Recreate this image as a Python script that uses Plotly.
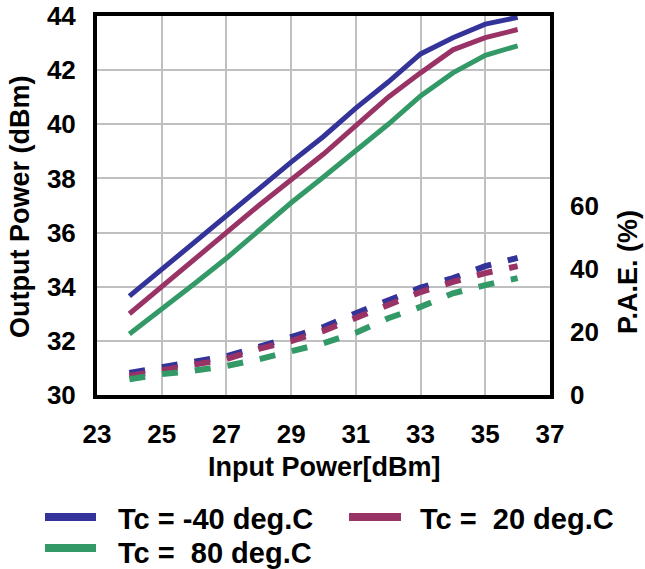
import plotly.graph_objects as go

# ---- data ----
pin = [24, 25, 26, 27, 28, 29, 30, 31, 32, 33, 34, 35, 36]

pout_m40 = [33.65, 34.65, 35.6, 36.6, 37.6, 38.6, 39.55, 40.6, 41.56, 42.6, 43.2, 43.7, 43.95]
pout_20 = [33.0, 34.0, 35.05, 36.0, 37.0, 37.95, 38.9, 39.95, 41.0, 41.9, 42.75, 43.2, 43.5]
pout_80 = [32.25, 33.15, 34.1, 35.05, 36.1, 37.1, 38.05, 39.0, 40.0, 41.05, 41.9, 42.55, 42.9]

pae_m40 = [7.0, 8.8, 10.5, 12.3, 15.2, 18.4, 21.5, 25.9, 30.1, 34.0, 37.0, 40.8, 43.4]
pae_20 = [6.0, 7.9, 9.5, 11.4, 14.6, 17.1, 20.3, 24.4, 28.8, 32.6, 35.8, 38.6, 40.8]
pae_80 = [5.0, 6.6, 7.7, 9.2, 11.3, 13.7, 16.4, 19.7, 24.3, 27.9, 32.2, 34.8, 37.0]

names = ["Tc = -40 deg.C", "Tc =\u00a0 20 deg.C", "Tc =\u00a0 80 deg.C"]
colors = ["#333399", "#993366", "#339966"]

x_ticks = [23, 25, 27, 29, 31, 33, 35, 37]
y_ticks = [30, 32, 34, 36, 38, 40, 42, 44]
y2_ticks = [0, 20, 40, 60]

FONT = "Liberation Sans, Arial, sans-serif"

W, H = 645, 569
ML, MR, MT, MB = 97, 95, 16, 174
PW, PH = W - ML - MR, H - MT - MB


def px(x):
    return (x - ML) / PW


def py(y):
    return (H - MB - y) / PH


fig = go.Figure()

pouts = [pout_m40, pout_20, pout_80]
paes = [pae_m40, pae_20, pae_80]

for i in range(3):
    fig.add_trace(go.Scatter(
        x=pin, y=pouts[i], mode="lines", name=names[i],
        line=dict(color=colors[i], width=5), showlegend=False,
    ))
for i in range(3):
    fig.add_trace(go.Scatter(
        x=pin, y=paes[i], mode="lines", name=names[i] + " PAE",
        line=dict(color=colors[i], width=6, dash="16px,17px"),
        yaxis="y2", showlegend=False,
    ))

tickfont = dict(family=FONT, size=26, color="black", weight="bold")
titlefont = dict(family=FONT, size=27, color="black", weight="bold")
legfont = dict(family=FONT, size=29, color="black", weight="bold")

# legend drawn as line samples + text (positions in pixels of the figure)
leg_items = [  # (sample x0, sample x1, sample y, text x, text y)
    (45, 96, 517, 116, 518.5),
    (349, 401, 517, 418, 518.5),
    (45, 96, 548, 116, 552.5),
]
shapes = []
annotations = []
for i, (x0, x1, ys, xt, yt) in enumerate(leg_items):
    shapes.append(dict(type="line", xref="paper", yref="paper",
                       x0=px(x0), x1=px(x1), y0=py(ys), y1=py(ys),
                       line=dict(color=colors[i], width=8)))
    annotations.append(dict(text=names[i], xref="paper", yref="paper",
                            x=px(xt), y=py(yt), xanchor="left", yanchor="middle",
                            showarrow=False, font=legfont))

# axis titles
annotations.append(dict(text="Input Power[dBm]", xref="paper", yref="paper",
                        x=px(324), y=py(467), xanchor="center", yanchor="middle",
                        showarrow=False, font=titlefont))
annotations.append(dict(text="Output Power (dBm)", xref="paper", yref="paper",
                        x=px(20), y=py(207), xanchor="center", yanchor="middle",
                        textangle=-90, showarrow=False, font=titlefont))
annotations.append(dict(text="P.A.E. (%)", xref="paper", yref="paper",
                        x=px(628), y=py(272), xanchor="center", yanchor="middle",
                        textangle=-90, showarrow=False, font=titlefont))

fig.update_layout(
    width=W, height=H,
    margin=dict(l=ML, r=MR, t=MT, b=MB, autoexpand=False),
    paper_bgcolor="white", plot_bgcolor="white",
    font=dict(family=FONT, color="black"),
    showlegend=False,
    xaxis=dict(
        range=[23, 37], tickvals=x_ticks, ticktext=[str(v) for v in x_ticks],
        showgrid=True, gridcolor="#c0c0c0", gridwidth=2,
        showline=True, linecolor="black", linewidth=4, mirror=True,
        zeroline=False, ticks="", ticklabelstandoff=13,
        tickfont=tickfont, automargin=False,
    ),
    yaxis=dict(
        range=[30, 44], tickvals=y_ticks, ticktext=[str(v) for v in y_ticks],
        showgrid=True, gridcolor="#c0c0c0", gridwidth=2,
        showline=True, linecolor="black", linewidth=4, mirror=True,
        zeroline=False, ticks="", ticklabelstandoff=12,
        tickfont=tickfont, automargin=False,
    ),
    yaxis2=dict(
        range=[0, 120], tickvals=y2_ticks, ticktext=[str(v) for v in y2_ticks],
        overlaying="y", side="right", showgrid=False, zeroline=False,
        showline=False, ticks="", ticklabelstandoff=19,
        tickfont=tickfont, automargin=False,
    ),
    shapes=shapes,
    annotations=annotations,
)

fig.write_html("out.html", config={"displayModeBar": False},
               post_script="document.body.style.margin='0';")
